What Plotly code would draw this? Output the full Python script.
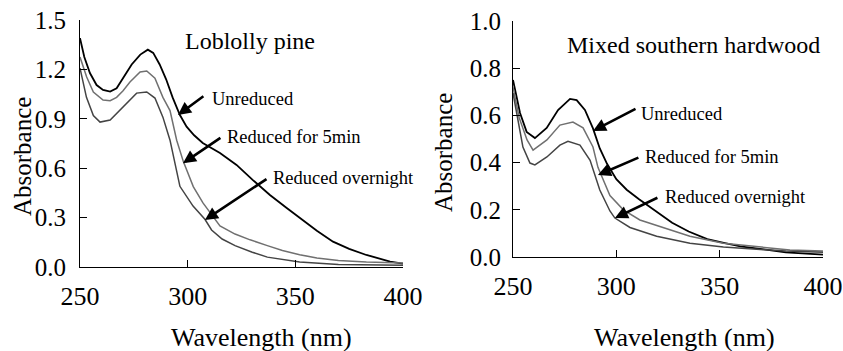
import plotly.graph_objects as go

# ---------------- Data ----------------
# Left panel: Loblolly pine
lp_unred_x = [250, 252, 254.6, 257.7, 260.7, 264, 267, 270, 274, 278, 281.5, 284, 287, 290, 293, 296.4, 299.5, 303, 307, 315, 322.7, 330.3, 338.2, 346, 353.5, 360, 367.5, 375, 383, 394, 400]
lp_unred_y = [1.39, 1.275, 1.178, 1.105, 1.075, 1.065, 1.085, 1.15, 1.23, 1.29, 1.32, 1.30, 1.23, 1.14, 1.03, 0.923, 0.852, 0.80, 0.753, 0.692, 0.62, 0.528, 0.437, 0.358, 0.285, 0.22, 0.154, 0.11, 0.073, 0.032, 0.02]

lp_5min_x = [250, 253.1, 256.2, 260.7, 264, 267, 270, 273.2, 277.9, 281, 284.8, 288.5, 291.8, 294.9, 298, 302.6, 307.1, 311.7, 315, 322, 329, 337, 344, 352, 360, 370, 383, 400]
lp_5min_y = [1.275, 1.154, 1.063, 1.014, 1.01, 1.03, 1.07, 1.123, 1.184, 1.19, 1.147, 1.03, 0.95, 0.77, 0.64, 0.488, 0.389, 0.304, 0.25, 0.20, 0.165, 0.13, 0.10, 0.075, 0.055, 0.04, 0.03, 0.025]

lp_night_x = [250, 253, 256.2, 259.3, 264, 270, 276.3, 281, 284.8, 288.5, 291.8, 296.4, 302.5, 308, 311.1, 316, 322, 330, 337, 352, 370, 400]
lp_night_y = [1.208, 1.03, 0.92, 0.88, 0.893, 0.97, 1.056, 1.063, 1.026, 0.91, 0.77, 0.49, 0.37, 0.29, 0.225, 0.17, 0.13, 0.09, 0.06, 0.03, 0.015, 0.01]

# Right panel: Mixed southern hardwood
hw_unred_x = [250, 253.4, 256.6, 260.6, 266.3, 271.8, 277.6, 280.8, 284.8, 288.7, 292, 295.5, 300, 305, 311, 318, 327, 335, 344, 352, 360, 382, 400]
hw_unred_y = [0.75, 0.61, 0.53, 0.504, 0.547, 0.623, 0.67, 0.665, 0.623, 0.545, 0.46, 0.395, 0.33, 0.285, 0.245, 0.20, 0.145, 0.108, 0.076, 0.06, 0.045, 0.02, 0.01]

hw_5min_x = [250, 253, 256.8, 259.7, 266.4, 272.7, 279, 283.9, 288.7, 291.1, 296.9, 303.4, 311.4, 319.5, 335.6, 351.8, 384, 400]
hw_5min_y = [0.72, 0.59, 0.496, 0.453, 0.496, 0.559, 0.572, 0.547, 0.466, 0.38, 0.26, 0.2, 0.157, 0.133, 0.088, 0.058, 0.03, 0.025]

hw_night_x = [250, 254.8, 258.2, 260.6, 266.4, 272.7, 276.6, 282.4, 287.3, 292, 296.9, 299.3, 306.6, 319.5, 335.6, 351.8, 382, 400]
hw_night_y = [0.695, 0.466, 0.398, 0.39, 0.424, 0.474, 0.49, 0.474, 0.41, 0.284, 0.195, 0.165, 0.125, 0.088, 0.058, 0.042, 0.025, 0.02]

series_names = ["Unreduced", "Reduced for 5min", "Reduced overnight"]
panel_titles = ["Loblolly pine", "Mixed southern hardwood"]
x_ticks = [250, 300, 350, 400]
lp_y_ticks = [0.0, 0.3, 0.6, 0.9, 1.2, 1.5]
hw_y_ticks = [0.0, 0.2, 0.4, 0.6, 0.8, 1.0]

colors = ["#000000", "#707070", "#444444"]
FONT = "Liberation Serif"

# the page's body margin is removed (post_script), so figure pixels = window pixels
W, H = 843, 351


def fx(px):
    return px / W


def fy(py):
    return (H - py) / H


fig = go.Figure()

left = [(lp_unred_x, lp_unred_y), (lp_5min_x, lp_5min_y), (lp_night_x, lp_night_y)]
right = [(hw_unred_x, hw_unred_y), (hw_5min_x, hw_5min_y), (hw_night_x, hw_night_y)]
widths = [1.8, 1.5, 1.5]
for i, (xs, ys) in enumerate(left):
    fig.add_trace(go.Scatter(x=xs, y=ys, mode="lines", name=series_names[i],
                             line=dict(color=colors[i], width=widths[i]), xaxis="x", yaxis="y",
                             showlegend=False))
for i, (xs, ys) in enumerate(right):
    fig.add_trace(go.Scatter(x=xs, y=ys, mode="lines", name=series_names[i],
                             line=dict(color=colors[i], width=widths[i]), xaxis="x2", yaxis="y2",
                             showlegend=False))

axis_common = dict(showgrid=False, zeroline=False, showline=True, linecolor="black",
                   linewidth=1, ticks="inside", ticklen=7, tickcolor="black", automargin=False,
                   ticklabeloverflow="allow")
xfont = dict(family=FONT, size=26, color="black")
yfont = dict(family=FONT, size=25, color="black")

fig.update_layout(
    template="none",
    width=W, height=H,
    margin=dict(l=0, r=0, t=0, b=0, autoexpand=False),
    paper_bgcolor="white", plot_bgcolor="white",
    font=dict(family=FONT, color="black"),
    xaxis=dict(domain=[fx(80), fx(403)], range=[250, 400], tickvals=x_ticks,
               anchor="y", ticklabelstandoff=6, tickfont=xfont, **axis_common),
    yaxis=dict(domain=[fy(267), fy(20)], range=[0, 1.5], tickvals=lp_y_ticks,
               tickformat=".1f", anchor="x", ticklabelstandoff=8, tickfont=yfont, **axis_common),
    xaxis2=dict(domain=[fx(513), fx(823)], range=[250, 400], tickvals=x_ticks,
                anchor="y2", ticklabelstandoff=6, tickfont=xfont, **axis_common),
    yaxis2=dict(domain=[fy(257), fy(21)], range=[0, 1.0], tickvals=hw_y_ticks,
                tickformat=".1f", anchor="x2", ticklabelstandoff=6, tickfont=yfont, **axis_common),
)

ann = []


def title_ann(text, px, py, size, angle=0):
    return dict(text=text, xref="paper", yref="paper", x=fx(px), y=fy(py),
                xanchor="center", yanchor="middle", textangle=angle, showarrow=False,
                font=dict(family=FONT, size=size, color="black"))


# axis titles
ann.append(title_ann("Absorbance", 22, 157, 25, -90))
ann.append(title_ann("Absorbance", 443, 153, 25, -90))
ann.append(title_ann("Wavelength (nm)", 261, 337, 26))
ann.append(title_ann("Wavelength (nm)", 684, 337, 26))
# panel titles
ann.append(dict(text=panel_titles[0], xref="x", yref="y", x=297.8, y=1.372, xanchor="left",
                yanchor="middle", showarrow=False, font=dict(family=FONT, size=24, color="black")))
ann.append(dict(text=panel_titles[1], xref="x2", yref="y2", x=275.2, y=0.898, xanchor="left",
                yanchor="middle", showarrow=False, font=dict(family=FONT, size=24, color="black")))

# series labels with arrows (label position, arrow tail, arrow head)
left_lbl = [((310.4, 1.02), (308, 1.044), (295.5, 0.923)),
            ((317.3, 0.79), (315.9, 0.79), (297.8, 0.63)),
            ((338.7, 0.54), (337.3, 0.54), (308, 0.285))]
right_lbl = [((311, 0.606), (310, 0.631), (288.7, 0.534)),
             ((312.9, 0.424), (311.4, 0.424), (291.1, 0.347)),
             ((322.6, 0.254), (320.6, 0.254), (299.3, 0.165))]
for refs, lbls in ((("x", "y"), left_lbl), (("x2", "y2"), right_lbl)):
    xr, yr = refs
    for i, (txt, tail, head) in enumerate(lbls):
        ann.append(dict(text=series_names[i], xref=xr, yref=yr, x=txt[0], y=txt[1],
                        xanchor="left", yanchor="middle", showarrow=False,
                        font=dict(family=FONT, size=18.5, color="black")))
        ann.append(dict(text="", xref=xr, yref=yr, x=head[0], y=head[1],
                        axref=xr, ayref=yr, ax=tail[0], ay=tail[1],
                        showarrow=True, arrowhead=2, arrowsize=1, arrowwidth=2.6,
                        arrowcolor="black", standoff=0, startstandoff=0))

fig.update_layout(annotations=ann)
fig.write_html(
    "out.html",
    config={"displayModeBar": False},
    post_script="document.body.style.margin='0';document.documentElement.style.overflow='hidden';",
)
